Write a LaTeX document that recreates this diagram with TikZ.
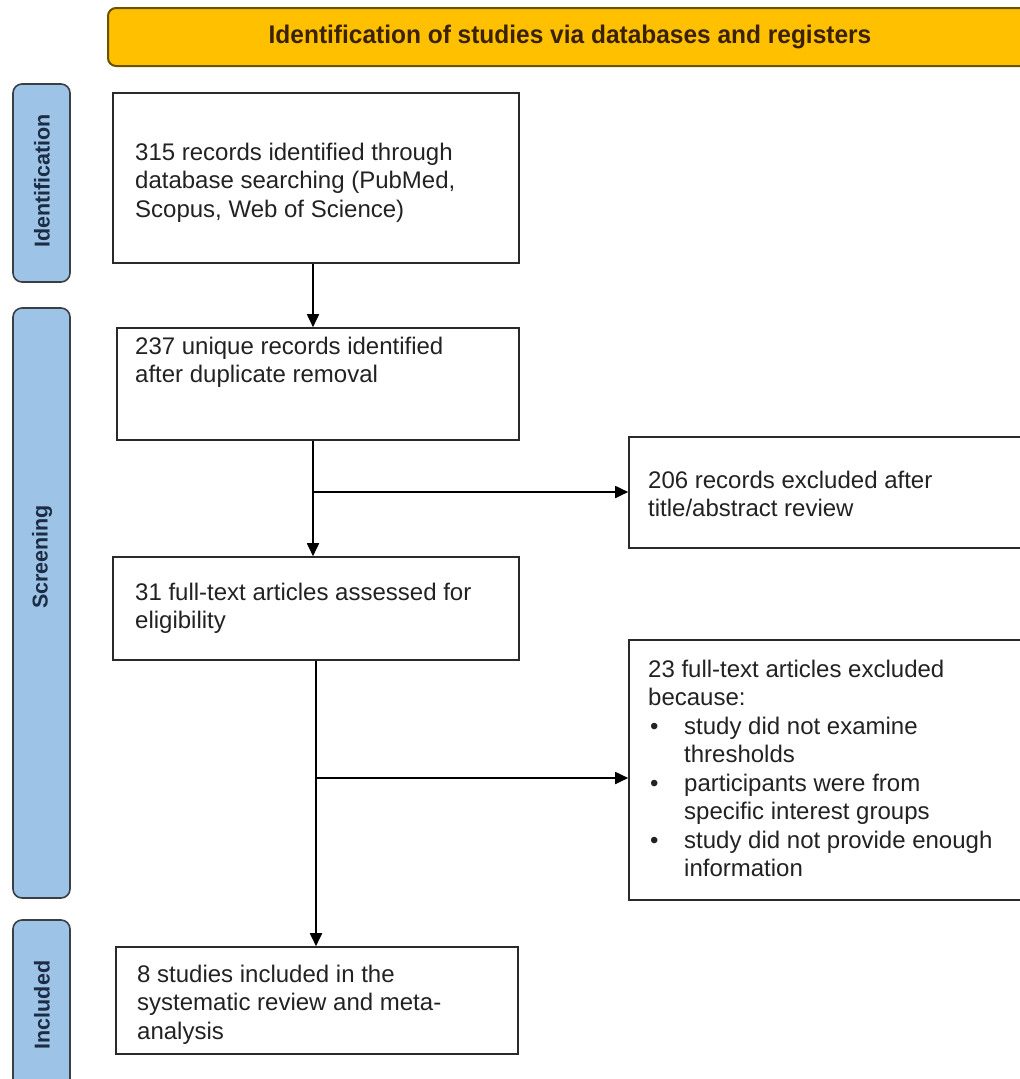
\documentclass[tikz,border=0pt]{standalone}
\usepackage{fontspec}
\setmainfont{Liberation Sans}
\newfontfamily\hdrfont[FakeStretch=0.96]{Liberation Sans Bold}
\newfontfamily\lblfont{Liberation Sans Bold}
\usetikzlibrary{arrows.meta}
\definecolor{hdrfill}{HTML}{FFC000}
\definecolor{hdrline}{HTML}{6B5200}
\definecolor{hdrtext}{HTML}{3A2200}
\definecolor{lblfill}{HTML}{9DC3E6}
\definecolor{lblline}{HTML}{3A3F45}
\definecolor{lbltext}{HTML}{1C2C44}
\definecolor{boxline}{HTML}{2A2A2A}
\definecolor{bodytext}{HTML}{222222}
\tikzset{
  hdrbox/.style={draw=hdrline, line width=2pt, fill=hdrfill, rounded corners=8pt, inner sep=0pt},
  lblbox/.style={draw=lblline, line width=1.6pt, fill=lblfill, rounded corners=9pt, inner sep=0pt},
  lbltxt/.style={rotate=90, font=\lblfont\fontsize{21.5}{24}\selectfont, text=lbltext, inner sep=0pt},
  flowbox/.style={draw=boxline, line width=1.6pt, fill=white, inner sep=0pt},
  bodytxt/.style={anchor=north west, align=left, inner sep=0pt, text=bodytext, font=\fontsize{24}{28.5}\selectfont},
  arr/.style={draw=black, line width=1.8pt, -{Triangle[length=13pt,width=12pt]}}
}
\begin{document}
\begin{tikzpicture}[x=1pt,y=-1pt]
\useasboundingbox (0,0) rectangle (1020,1079);
\path[clip] (0,0) rectangle (1020,1079);
\fill[white] (0,0) rectangle (1020,1079);

% header
\node[hdrbox, minimum width=924pt, minimum height=58pt] (hdr) at (570,37) {};
\node[font=\hdrfont\fontsize{25.5}{28}\selectfont, text=hdrtext, inner sep=0pt] (hdrt) at (570,37) {Identification of studies via databases and registers};

% side labels
\node[lblbox, minimum width=57pt, minimum height=198pt] (lid) at (41.5,183) {};
\node[lbltxt] (lidt) at (42,181) {Identification};
\node[lblbox, minimum width=57pt, minimum height=590pt] (lsc) at (41.5,603) {};
\node[lbltxt] (lsct) at (42,557) {Screening};
\node[lblbox, minimum width=57pt, minimum height=175pt] (lin) at (41.5,1007.5) {};
\node[lbltxt] (lint) at (42,1005) {Included};

% flow boxes
\node[flowbox, minimum width=406pt, minimum height=170pt] (b1) at (316,178) {};
\node[flowbox, minimum width=402pt, minimum height=112pt] (b2) at (318,384) {};
\node[flowbox, minimum width=416pt, minimum height=111pt] (b206) at (837,492.5) {};
\node[flowbox, minimum width=406pt, minimum height=103pt] (b3) at (316,608.5) {};
\node[flowbox, minimum width=416pt, minimum height=260pt] (b23) at (837,770) {};
\node[flowbox, minimum width=402pt, minimum height=107pt] (b4) at (317,1000.5) {};

% texts
\node[bodytxt] (t1) at (135,142.5) {315 records identified through\\database searching (PubMed,\\Scopus, Web of Science)};
\node[bodytxt] (t2) at (135,336.5) {237 unique records identified\\after duplicate removal};
\node[bodytxt] (t206) at (648,470.5) {206 records excluded after\\title/abstract review};
\node[bodytxt] (t3) at (135,582.5) {31 full-text articles assessed for\\eligibility};
\node[bodytxt] (t23) at (648,659.5) {23 full-text articles excluded\\because:\\
\hspace*{2pt}\makebox[34pt][l]{•}study did not examine\\
\hspace*{36pt}thresholds\\
\hspace*{2pt}\makebox[34pt][l]{•}participants were from\\
\hspace*{36pt}specific interest groups\\
\hspace*{2pt}\makebox[34pt][l]{•}study did not provide enough\\
\hspace*{36pt}information};
\node[bodytxt] (t4) at (137,964.5) {8 studies included in the\\systematic review and meta-\\analysis};

% connectors
\coordinate (xa) at (313,0);
\coordinate (xb) at (316,0);
\coordinate (j1) at (313,492);
\coordinate (j2) at (316,778);
\draw[arr] (xa |- b1.south) -- (xa |- b2.north);
\draw[arr] (xa |- b2.south) -- (xa |- b3.north);
\draw[arr] (j1) -- (j1 -| b206.west);
\draw[arr] (xb |- b3.south) -- (xb |- b4.north);
\draw[arr] (j2) -- (j2 -| b23.west);
\end{tikzpicture}
\end{document}
